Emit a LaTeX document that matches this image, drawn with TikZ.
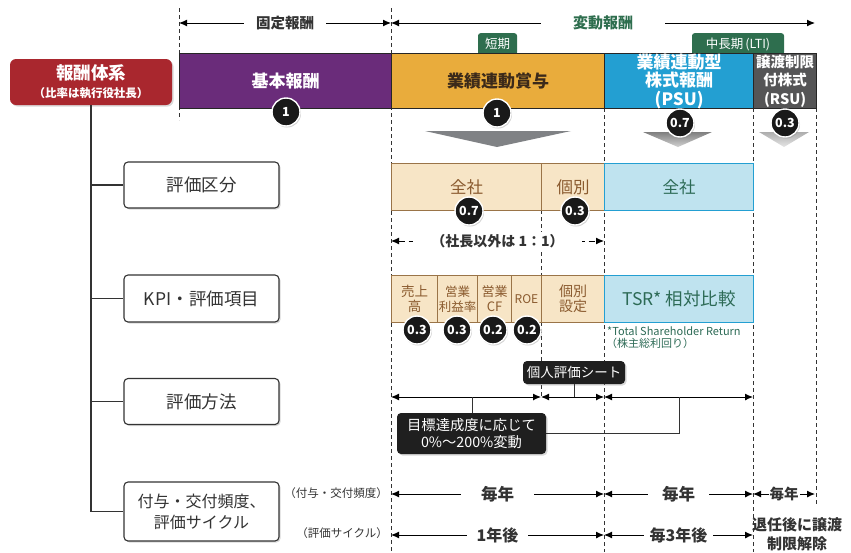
\documentclass[tikz,border=0pt]{standalone}
\usepackage{fontspec}
\setmainfont{Noto Sans CJK JP}
\usetikzlibrary{arrows.meta,shadows,calc}
\definecolor{purp}{HTML}{6A2C7A}
\definecolor{orng}{HTML}{E9AC3C}
\definecolor{blu}{HTML}{239FD2}
\definecolor{dgray}{HTML}{555556}
\definecolor{redbox}{HTML}{A9272E}
\definecolor{grn}{HTML}{2E6E4E}
\definecolor{tanf}{HTML}{F7E5C6}
\definecolor{tanb}{HTML}{9A7448}
\definecolor{tant}{HTML}{8A5A2E}
\definecolor{lblu}{HTML}{BFE3EF}
\definecolor{tealt}{HTML}{2C6A55}
\definecolor{txt}{HTML}{333333}
\definecolor{arrg}{HTML}{808285}
\definecolor{bartxt}{HTML}{3B2A1A}
\newcommand{\fs}[2]{\fontsize{#1pt}{#2pt}\selectfont}
\begin{document}
\begin{tikzpicture}[x=1pt,y=-1pt,
  every node/.style={text=txt},
  vdash/.style={draw=txt,line width=0.9pt,dash pattern=on 4pt off 3pt},
  dim/.style={draw=black,line width=1pt,{Latex[length=8pt,width=7pt]}-{Latex[length=8pt,width=7pt]}},
  ddim/.style={draw=black,line width=1pt,dash pattern=on 6pt off 4pt,{Latex[length=8pt,width=7pt]}-{Latex[length=8pt,width=7pt]}},
  gap/.style={fill=white,inner ysep=2pt},
  bar/.style={draw=black!85,line width=1.3pt,minimum height=55pt,inner sep=0pt,align=center,anchor=north west},
  tag/.style={fill=grn,rounded corners=2.5pt,text=white,inner sep=0pt,minimum height=22pt,anchor=north,font=\fs{12.5}{14}},
  badge/.style={circle,fill=black!90,draw=white,line width=1.4pt,text=white,font=\fs{12.5}{12.5}\bfseries,minimum size=28pt,inner sep=0pt,drop shadow={opacity=0.35,shadow xshift=1pt,shadow yshift=-1.5pt}},
  rowbox/.style={draw=txt,line width=1.1pt,rounded corners=4pt,fill=white,minimum width=155pt,align=center,font=\fs{17.5}{21},drop shadow={opacity=0.3,shadow xshift=1.5pt,shadow yshift=-1.5pt}},
  tancell/.style={draw=tanb,fill=tanf,line width=1pt,text=tant,inner sep=0pt,align=center,anchor=north west},
  blucell/.style={draw=blu,fill=lblu,line width=1pt,text=tealt,inner sep=0pt,align=center,anchor=north west},
  blkbox/.style={fill=black!88,rounded corners=4pt,text=white,align=center,inner sep=0pt,drop shadow={opacity=0.3,shadow xshift=1.5pt,shadow yshift=-1.5pt}},
  tree/.style={draw=txt,line width=1.1pt}
]
\useasboundingbox (0,0) rectangle (851,552);

% dashed guide lines
\draw[vdash] (179,8) -- (179,120);
\draw[vdash] (391,8) -- (391,552);
\draw[vdash] (604,108) -- (604,552);
\draw[vdash] (753,108) -- (753,552);
\draw[vdash] (816,108) -- (816,505);
\draw[vdash] (541,210) -- (541,397);

% top dimension arrows
\coordinate (d0) at (179,23);
\coordinate (d1) at (391,23);
\coordinate (d2) at (815,23);
\draw[dim] (d0) -- node[gap,inner xsep=12pt,font=\fs{14.5}{16}\bfseries] (lblfix) {固定報酬} (d1);
\draw[dim] (d1) -- node[gap,inner xsep=32pt,font=\fs{15}{16}\bfseries,text=grn] (lblvar) {変動報酬} (d2);

% tags
\node[tag,minimum width=39pt] (tshort) at (497.5,33) {短期};
\node[tag,minimum width=92pt] (tlong) at (738,33) {中長期\,(LTI)};

% bars
\node[bar,fill=purp,minimum width=212pt,text=white,font=\fs{17}{18}\bfseries] (kihon) at (179,53) {基本報酬};
\node[bar,fill=orng,minimum width=213pt,text=bartxt,font=\fs{17}{18}\bfseries] (shoyo) at (391,53) {業績連動賞与};
\node[bar,fill=blu,minimum width=149pt,text=white,font=\fs{17}{18.5}\bfseries] (psu) at (604,53) {業績連動型\\株式報酬\\(PSU)};
\node[bar,fill=dgray,minimum width=63pt,text=white,font=\fs{14.5}{18.5}\bfseries] (rsu) at (753,53) {譲渡制限\\付株式\\(RSU)};

% gray chevrons
\fill[arrg] (425,131) -- (571,131) -- (497,147) -- cycle;
\shade[top color=black!50,bottom color=black!18] (643,132) -- (712,132) -- (678,147) -- cycle;
\shade[top color=black!32,bottom color=black!10] (759,132) -- (809,132) -- (784,147) -- cycle;

% badges on bars
\node[badge] (b1) at (286,112) {1};
\node[badge] (b2) at (497,113) {1};
\node[badge] (b3) at (680,123) {0.7};
\node[badge] (b4) at (785,123) {0.3};

% left hierarchy
\node[fill=redbox,rounded corners=6pt,minimum width=162pt,minimum height=46pt,align=center,text=white,inner sep=0pt,
  font=\fs{17.5}{18}\bfseries,
  drop shadow={opacity=0.3,shadow xshift=1.5pt,shadow yshift=-1.5pt}] (root) at (91,82)
  {報酬体系\\{\fs{11.5}{17}（比率は執行役社長）}};
\node[rowbox,minimum height=46pt] (r1) at (201.5,185) {評価区分};
\node[rowbox,minimum height=47pt] (r2) at (201.5,298.5) {KPI・評価項目};
\node[rowbox,minimum height=46pt] (r3) at (201.5,401.5) {評価方法};
\node[rowbox,minimum height=59pt,font=\fs{16}{21}] (r4) at (201.5,511.5) {付与・交付頻度、\\評価サイクル};
\draw[tree] (root.south) -- (root.south |- r4.west);
\foreach \r in {r1,r2,r3,r4} \draw[tree] (root.south |- \r.west) -- (\r.west);

% row 1: evaluation category
\node[tancell,minimum width=150pt,minimum height=47pt,font=\fs{16.5}{18}] (c1a) at (391,163) {全社};
\node[tancell,minimum width=63pt,minimum height=47pt,font=\fs{16.5}{18}] (c1b) at (541,163) {個別};
\node[blucell,minimum width=149pt,minimum height=47pt,font=\fs{16.5}{18}] (c1c) at (604,163) {全社};
\node[badge] (b5) at (469,211) {0.7};
\node[badge] (b6) at (575,211) {0.3};

\coordinate (s0) at (391,241);
\coordinate (s1) at (604,241);
\draw[ddim] (s0) -- node[gap,inner xsep=18pt,font=\fs{14}{15}\bfseries] (lbl11) {（社長以外は 1：1）} (s1);

% row 2: KPI
\node[tancell,minimum width=46pt,minimum height=47pt,font=\fs{13.5}{15}] (k1) at (391,275) {売上\\高};
\node[tancell,minimum width=40pt,minimum height=47pt,font=\fs{12.5}{15}] (k2) at (437,275) {営業\\利益率};
\node[tancell,minimum width=34pt,minimum height=47pt,font=\fs{13}{15}] (k3) at (477,275) {営業\\CF};
\node[tancell,minimum width=30pt,minimum height=47pt,font=\fs{12}{13}] (k4) at (511,275) {ROE};
\node[tancell,minimum width=63pt,minimum height=47pt,font=\fs{14}{15}] (k5) at (541,275) {個別\\設定};
\node[blucell,minimum width=149pt,minimum height=47pt,font=\fs{17.5}{18}] (k6) at (604,275) {TSR* 相対比較};
\node[badge] (b7) at (417,330) {0.3};
\node[badge] (b8) at (457,330) {0.3};
\node[badge] (b9) at (493,330) {0.2};
\node[badge] (b10) at (527,330) {0.2};
\node[anchor=west,inner sep=0pt,text=tealt,font=\fs{11}{12}] (fn1) at (607,331) {*Total Shareholder Return};
\node[anchor=west,inner sep=0pt,text=tealt,font=\fs{11}{12}] (fn2) at (606,343) {（株主総利回り）};

% row 3: method
\coordinate (e0) at (391,397);
\coordinate (e1) at (541,397);
\coordinate (e2) at (604,397);
\coordinate (e3) at (753,397);
\draw[dim] (e0) -- (e1);
\draw[dim] (e1) -- (e2);
\draw[dim] (e2) -- (e3);
\node[blkbox,minimum width=102pt,minimum height=23pt,font=\fs{13.5}{15}] (kojin) at (574,372.5) {個人評価シート};
\node[blkbox,minimum width=149pt,minimum height=41pt,font=\fs{14.3}{17}] (goal) at (471.5,433.5) {目標達成度に応じて\\0\%～200\%変動};
\coordinate (t1) at (472,397);
\coordinate (t2) at (679,397);
\draw[tree,line width=1pt] (kojin.south) -- (kojin.south |- e1);
\draw[tree,line width=1pt] (t1) -- (t1 |- goal.north);
\draw[tree,line width=1pt] (t2) |- (goal.east);

% row 4: frequency / cycle
\node[anchor=east,inner sep=0pt,font=\fs{11.5}{12}] (lf) at (388,493) {（付与・交付頻度）};
\node[anchor=east,inner sep=0pt,font=\fs{11.5}{12}] (lc) at (388,533) {（評価サイクル）};
\coordinate (f0) at (391,494);
\coordinate (f1) at (604,494);
\coordinate (f2) at (753,494);
\coordinate (f3) at (815,494);
\draw[dim] (f0) -- node[gap,inner xsep=20pt,font=\fs{16.5}{17}\bfseries] (ma1) {毎年} (f1);
\draw[dim] (f1) -- node[gap,inner xsep=14pt,font=\fs{16.5}{17}\bfseries] (ma2) {毎年} (f2);
\draw[dim] (f2) -- node[gap,inner xsep=1pt,font=\fs{14.5}{16}\bfseries] (ma3) {毎年} (f3);
\coordinate (g0) at (391,535);
\coordinate (g1) at (604,535);
\coordinate (g2) at (753,535);
\draw[dim] (g0) -- node[gap,inner xsep=10pt,font=\fs{16}{17}\bfseries] (y1) {1年後} (g1);
\draw[dim] (g1) -- node[gap,inner xsep=6pt,font=\fs{16}{17}\bfseries] (y3) {毎3年後} (g2);
\node[align=center,inner sep=0pt,font=\fs{15}{19}\bfseries] (taini) at (797,534) {退任後に譲渡\\制限解除};
\end{tikzpicture}
\end{document}
